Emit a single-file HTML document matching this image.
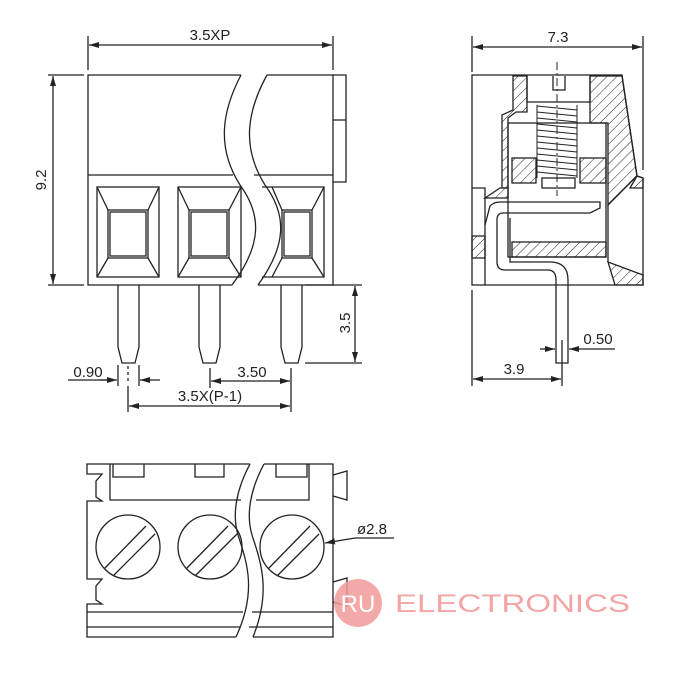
<!DOCTYPE html>
<html><head><meta charset="utf-8"><style>
html,body{margin:0;padding:0;background:#fff;}
svg{display:block;}
text{font-family:"Liberation Sans",sans-serif;fill:#222;}
</style></head><body>
<svg width="700" height="700" viewBox="0 0 700 700" xmlns="http://www.w3.org/2000/svg">
<defs>
<pattern id="h" patternUnits="userSpaceOnUse" width="7" height="7" patternTransform="rotate(45)">
<line x1="0" y1="0" x2="0" y2="7" stroke="#222" stroke-width="1"/>
</pattern>
<marker id="a" markerWidth="10" markerHeight="6" refX="10" refY="3" orient="auto" markerUnits="userSpaceOnUse">
<path d="M0,0 L10,3 L0,6 z" fill="#222"/>
</marker>
</defs>
<g fill="none" stroke="#222" stroke-width="1.3">
<!-- FRONT VIEW -->
<path d="M241 75 H88 V285 H232"/>
<path d="M267 75 H333 V285 H258"/>
<path d="M88 175 H233 M254 175 H333"/>
<path d="M333 75 H346 V182 H333 M333 120 H346"/>
<path d="M241 75 C220 115,218 150,240 185 C262 215,262 245,232 285"/>
<path d="M267 75 C245 115,243 150,265 185 C287 215,287 245,258 285"/>
<!-- slot 1 -->
<rect x="97" y="187" width="62" height="90"/>
<rect x="108" y="210" width="40" height="48"/>
<rect x="110" y="212" width="36" height="44"/>
<path d="M97 187 L108 210 M159 187 L148 210 M97 277 L108 258 M159 277 L148 258"/>
<!-- slot 2 -->
<rect x="178" y="187" width="63" height="90"/>
<rect x="189" y="210" width="40" height="48"/>
<rect x="191" y="212" width="36" height="44"/>
<path d="M178 187 L189 210 M241 187 L229 210 M178 277 L189 258 M241 277 L229 258"/>
<!-- slot 3 -->
<path d="M262 187 H324 V277 H262"/>
<rect x="282" y="210" width="30" height="48"/>
<rect x="284" y="212" width="26" height="44"/>
<path d="M324 187 L312 210 M324 277 L312 258 M272 187 L282 210 M272 277 L282 258"/>
<!-- pins -->
<path d="M118 285 V347 L122 363 H135 L139 347 V285"/>
<path d="M199 285 V347 L203 363 H216 L220 347 V285"/>
<path d="M281 285 V347 L285 363 H298 L302 347 V285"/>
<path d="M128 366 V384" stroke-dasharray="3,3"/>
<!-- dims front -->
<path d="M88 36 V70 M333 36 V70"/>
<line x1="210" y1="45" x2="89" y2="45" marker-end="url(#a)"/>
<line x1="210" y1="45" x2="332" y2="45" marker-end="url(#a)"/>
<path d="M48 75 H84 M48 285 H84"/>
<line x1="53" y1="180" x2="53" y2="76" marker-end="url(#a)"/>
<line x1="53" y1="180" x2="53" y2="284" marker-end="url(#a)"/>
<path d="M305 285 H362 M305 363 H362"/>
<line x1="355" y1="324" x2="355" y2="286" marker-end="url(#a)"/>
<line x1="355" y1="324" x2="355" y2="362" marker-end="url(#a)"/>
<path d="M118 365 V386 M139 365 V386"/>
<path d="M68 380 H108"/>
<line x1="100" y1="380" x2="117" y2="380" marker-end="url(#a)"/>
<line x1="160" y1="380" x2="140" y2="380" marker-end="url(#a)"/>
<path d="M210 368 V388 M291 368 V412 M128 386 V412"/>
<line x1="250" y1="381" x2="211" y2="381" marker-end="url(#a)"/>
<line x1="250" y1="381" x2="290" y2="381" marker-end="url(#a)"/>
<line x1="210" y1="406" x2="129" y2="406" marker-end="url(#a)"/>
<line x1="210" y1="406" x2="290" y2="406" marker-end="url(#a)"/>

<!-- SIDE VIEW -->
<path d="M472 36 V72 M643 36 V170"/>
<line x1="557" y1="47" x2="473" y2="47" marker-end="url(#a)"/>
<line x1="557" y1="47" x2="642" y2="47" marker-end="url(#a)"/>
<!-- hatched regions -->
<path d="M513 76 H527 V112 H516 L508 118 V188 H502 V115 L513 110 Z" fill="url(#h)"/>
<path d="M590 76 H622 L637 176 L608 205 V123 H590 Z" fill="url(#h)"/>
<rect x="512" y="158" width="24" height="25" fill="url(#h)"/>
<rect x="580" y="158" width="26" height="25" fill="url(#h)"/>
<rect x="512" y="242" width="94" height="15" fill="url(#h)"/>
<path d="M608 262 L643 275 V285 H615 Z" fill="url(#h)"/>
<path d="M472 236 H485 V258 H472 Z" fill="url(#h)"/>
<path d="M485 198 L500 188 H508 V198 Z" fill="url(#h)"/>
<path d="M637 176 L643 178 V188 H630 Z" fill="url(#h)"/>
<!-- outline -->
<path d="M472 75 H622 L637 176 L643 178 V285 H472 Z"/>
<path d="M472 188 H485 V285"/>
<path d="M527 76 V102 H590 V76 M553 76 V90 H565 V76"/>
<path d="M557 62 V196" stroke-dasharray="8,3,2,3" stroke-width="1"/>
<rect x="542" y="178" width="33" height="10"/>
<rect x="508" y="123" width="98" height="134"/>
<path d="M608 205 V262"/>
<path d="M485 225 L490 206 Q494 202 500 202 H600 V208 L590 213 H503 Q497 213 497 220 V262 Q497 270 505 270 H548 Q556 270 556 280 V363 H568 V280 Q568 262 550 262 H510 V218"/>
<!-- threads -->
<g stroke-width="1">
<path d="M537 105 V178 M577 105 V178"/>
<path d="M537 106 L577 110 M537 112 L577 116 M537 118 L577 122 M537 124 L577 128 M537 130 L577 134 M537 136 L577 140 M537 142 L577 146 M537 148 L577 152 M537 154 L577 158 M537 160 L577 164 M537 166 L577 170 M537 172 L577 176"/>
</g>
<!-- side dims -->
<path d="M562 340 V386 M472 290 V386"/>
<line x1="540" y1="349" x2="555" y2="349" marker-end="url(#a)"/>
<line x1="615" y1="349" x2="569" y2="349" marker-end="url(#a)"/>
<line x1="517" y1="379" x2="473" y2="379" marker-end="url(#a)"/>
<line x1="517" y1="379" x2="561" y2="379" marker-end="url(#a)"/>

<!-- BOTTOM VIEW -->
<path d="M250 464 H87 V474 H102 L96 481 V497 L102 501 H87 V579 H102 L96 586 V600 L102 604 H87 V637 H236"/>
<path d="M264 464 H333 V637 H253"/>
<path d="M333 475 L347 471 V500 L333 496 M333 582 L347 578 V606 L333 602"/>
<path d="M113 464 V477 H144 V464 M195 464 V477 H224 V464 M276 464 V477 H307 V464"/>
<path d="M110 464 V500 H241 M256 500 H309 V464"/>
<path d="M87 612 H243 M252 612 H333 M87 627 H240 M249 627 H333"/>
<path d="M250 464 C236 490,232 515,238 535 C246 560,258 590,236 637"/>
<path d="M264 464 C250 490,246 515,252 535 C260 560,272 590,253 637"/>
<circle cx="128" cy="547" r="32"/>
<circle cx="210" cy="547" r="32"/>
<circle cx="292" cy="547" r="32"/>
<path d="M104 569 L146 526 M113 576 L155 534"/>
<path d="M186 569 L228 526 M195 576 L237 534"/>
<path d="M268 569 L310 526 M277 576 L319 534"/>
<path d="M394 538 H355"/>
<line x1="355" y1="538" x2="325" y2="543" marker-end="url(#a)"/>
</g>
<g font-size="15" text-anchor="middle">
<text x="210" y="40">3.5XP</text>
<text x="0" y="0" transform="translate(46,180) rotate(-90)">9.2</text>
<text x="0" y="0" transform="translate(350,323) rotate(-90)">3.5</text>
<text x="88" y="377">0.90</text>
<text x="252" y="377">3.50</text>
<text x="210" y="401">3.5X(P-1)</text>
<text x="558" y="42">7.3</text>
<text x="598" y="344">0.50</text>
<text x="514" y="374">3.9</text>
<text x="372" y="534">ø2.8</text>
</g>
<!-- watermark -->
<circle cx="358" cy="603" r="24" fill="#f29a9a" opacity="0.85"/>
<text x="358" y="612" font-size="24" text-anchor="middle" style="fill:#fff">RU</text>
<text x="395" y="612" font-size="25" textLength="235" lengthAdjust="spacingAndGlyphs" style="fill:#f4a4a4">ELECTRONICS</text>
</svg>
</body></html>
